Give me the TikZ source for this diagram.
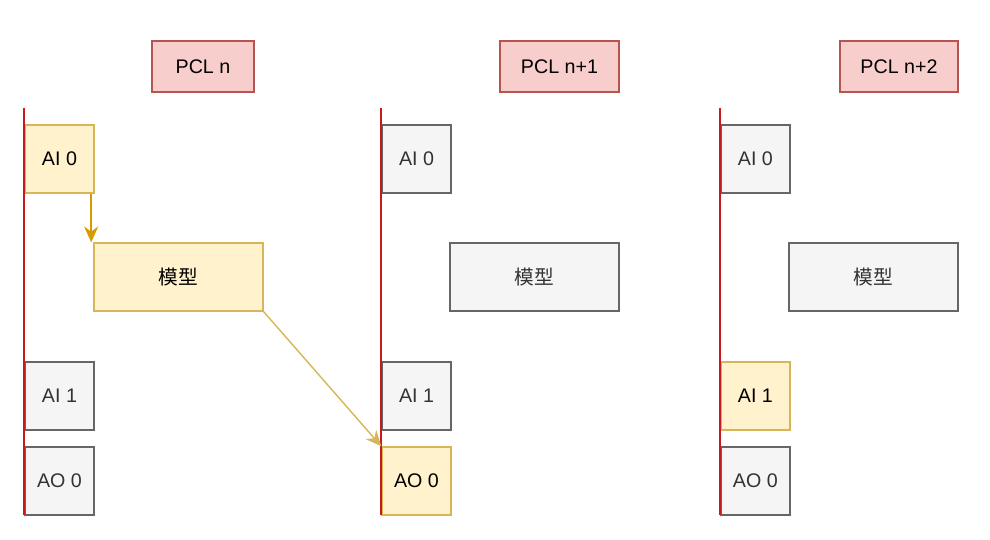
\documentclass[tikz,border=0pt]{standalone}
\usepackage{fontspec}
\setmainfont{Liberation Sans}
\newfontfamily\cjk{Noto Sans CJK SC}
\usetikzlibrary{arrows.meta}
\definecolor{pclfill}{HTML}{F8CECC}
\definecolor{pcldraw}{HTML}{B85450}
\definecolor{hotfill}{HTML}{FFF2CC}
\definecolor{hotdraw}{HTML}{D6B656}
\definecolor{idlefill}{HTML}{F5F5F5}
\definecolor{idledraw}{HTML}{666666}
\definecolor{idletext}{HTML}{333333}
\definecolor{flowdark}{HTML}{D79B00}
\definecolor{timeline}{HTML}{C8191E}

\begin{document}
\begin{tikzpicture}[x=0.02cm, y=-0.02cm, font=\fontsize{11.2}{13}\selectfont,
    pcl/.style={draw=pcldraw, fill=pclfill, line width=0.8pt, minimum height=1.02cm, inner sep=0pt},
    hot/.style={draw=hotdraw, fill=hotfill, line width=0.8pt, inner sep=0pt},
    idle/.style={draw=idledraw, fill=idlefill, text=idletext, line width=0.8pt, inner sep=0pt},
    io/.style={minimum width=1.38cm, minimum height=1.36cm},
    model/.style={minimum width=3.38cm, minimum height=1.36cm}]
            \useasboundingbox (0,0) rectangle (990,540);

            % Draw cycle n
            \node[pcl, minimum width=2.04cm] (pcl1) at (203,66.5) {PCL n};
            \node[hot, io] (ai01) at (59.5,159) {AI 0};
            \node[hot, model] (m1) at (178.5,277) {\cjk 模型};
            \node[idle, io] (ai11) at (59.5,396) {AI 1};
            \node[idle, io] (ao01) at (59.5,481) {AO 0};

            % Draw cycle n+1
            \node[pcl, minimum width=2.38cm] (pcl2) at (559.5,66.5) {PCL n+1};
            \node[idle, io] (ai02) at (416.5,159) {AI 0};
            \node[idle, model] (m2) at (534.5,277) {\cjk 模型};
            \node[idle, io] (ai12) at (416.5,396) {AI 1};
            \node[hot, io] (ao02) at (416.5,481) {AO 0};

            % Draw cycle n+2
            \node[pcl, minimum width=2.36cm] (pcl3) at (899,66.5) {PCL n+2};
            \node[idle, io] (ai03) at (755.4,159) {AI 0};
            \node[idle, model] (m3) at (873.5,277) {\cjk 模型};
            \node[hot, io] (ai13) at (755.4,396) {AI 1};
            \node[idle, io] (ao03) at (755.4,481) {AO 0};

            % Draw time lines
            \coordinate (t1) at (24,108);
            \coordinate (b1) at (24,515);
            \coordinate (t2) at (381,108);
            \coordinate (b2) at (381,515);
            \coordinate (t3) at (720,108);
            \coordinate (b3) at (720,515);
            \draw[timeline, line width=0.8pt] (t1) -- (b1);
            \draw[timeline, line width=0.8pt] (t2) -- (b2);
            \draw[timeline, line width=0.8pt] (t3) -- (b3);

            % Draw data flow
            \draw[flowdark, line width=0.8pt, -{Stealth[length=9pt, width=8pt, inset=3pt]}] ([xshift=-2]ai01.south east) -- ([xshift=-2]ai01.south east |- m1.north);
            \draw[hotdraw, line width=0.8pt, -{Stealth[length=9pt, width=8pt, inset=3pt]}] (m1.south east) -- (ao02.north west);
        \end{tikzpicture}
\end{document}
